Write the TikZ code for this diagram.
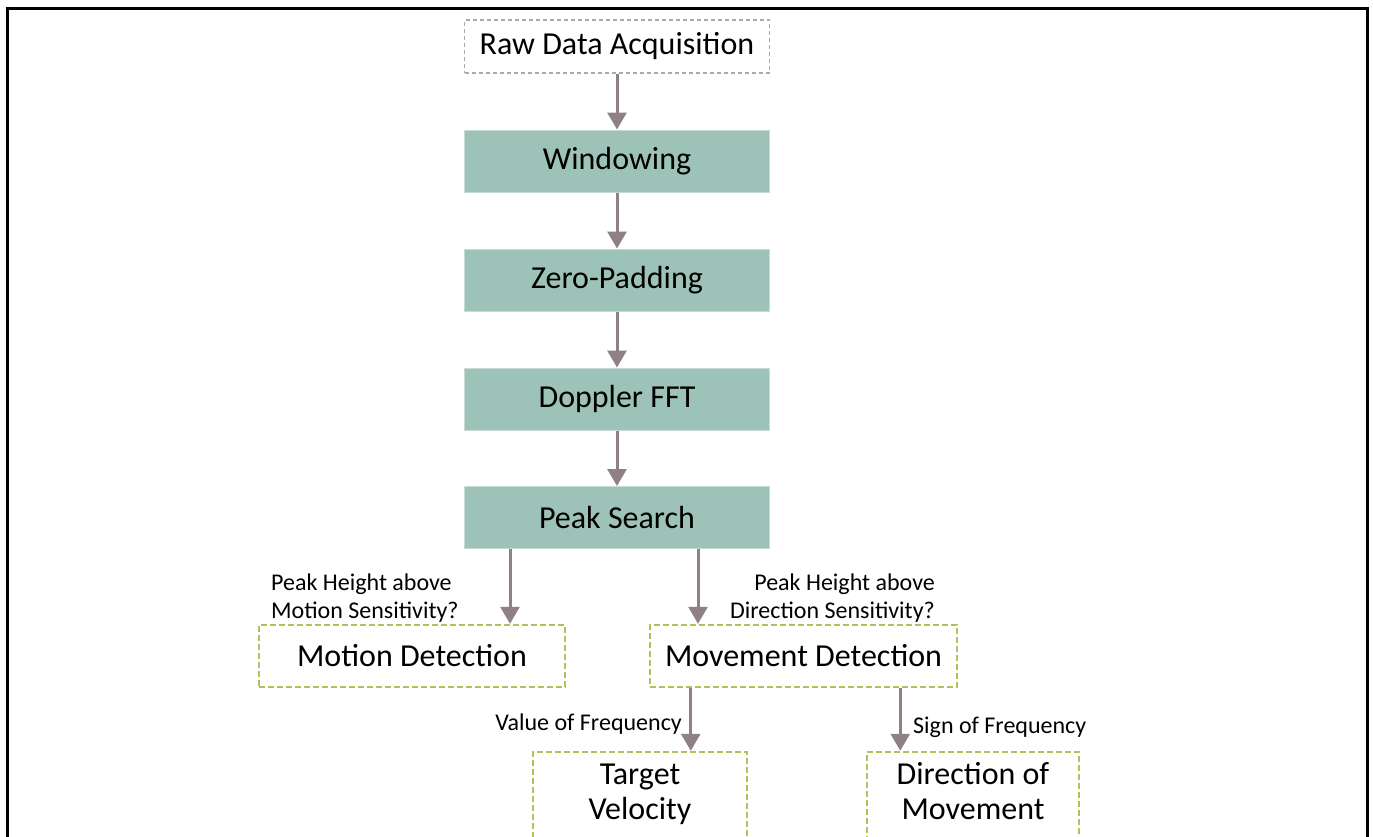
\documentclass[tikz,border=0pt]{standalone}
\usepackage{fontspec}
\setmainfont{Carlito}
\usetikzlibrary{arrows.meta}
\definecolor{stagefill}{RGB}{157,195,184}
\definecolor{stageedge}{RGB}{200,218,212}
\definecolor{flowgray}{RGB}{143,128,133}
\definecolor{resultgreen}{RGB}{169,196,91}
\definecolor{rawgray}{RGB}{170,170,170}
\tikzset{
  stage/.style={draw=stageedge, line width=1pt, fill=stagefill,
    minimum width=305pt, minimum height=62pt, inner sep=0pt,
    font=\fontsize{32}{38}\selectfont},
  rawbox/.style={stage, fill=none, draw=rawgray, line width=1.2pt,
    dash pattern=on 4pt off 3pt, minimum height=53pt},
  result/.style={draw=resultgreen, line width=2.5pt, dash pattern=on 6pt off 3pt,
    minimum height=62pt, inner sep=0pt, align=center,
    font=\fontsize{32}{35}\selectfont},
  cond/.style={inner sep=0pt, font=\fontsize{24}{28}\selectfont},
  flow/.style={draw=flowgray, line width=3pt, -{Triangle[length=17pt,width=19pt]}}
}
\begin{document}
\begin{tikzpicture}[x=1pt,y=-1pt]
  \useasboundingbox (0,0) rectangle (1373,836);
  \clip (0,0) rectangle (1373,836);
  % frame
  \draw[line width=3pt] (7,845) -- (7,8) -- (1367,8) -- (1367,845);
  \draw
    (617,46.5) node[rawbox] (raw){Raw Data Acquisition}
    (617,161) node[stage] (win){Windowing}
    (617,280) node[stage] (pad){Zero-Padding}
    (617,399) node[stage] (fft){Doppler FFT}
    (617,517.5) node[stage] (peak){Peak Search}
    (412,656) node[result, minimum width=306pt] (mot){Motion Detection}
    (803.5,656) node[result, minimum width=307pt] (move){Movement Detection}
    (640,795) node[result, minimum width=214pt, minimum height=86pt] (vel){\strut Target\\\strut Velocity}
    (973,795) node[result, minimum width=212pt, minimum height=86pt] (dir){\strut Direction of\\\strut Movement};
  \node[cond, align=left, anchor=west] (motq) at (271,598) {Peak Height above\\Motion Sensitivity?};
  \node[cond, align=right, anchor=east] (dirq) at (935,598) {Peak Height above\\Direction Sensitivity?};
  \node[cond, anchor=base east] (valq) at (682,730) {Value of Frequency};
  \node[cond, anchor=base west] (sgnq) at (913,733) {Sign of Frequency};
  \begin{scope}[flow]
    \draw (raw) to (win);
    \draw (win) to (pad);
    \draw (pad) to (fft);
    \draw (fft) to (peak);
    \draw ([xshift=46pt]peak.south west) to ([xshift=46pt]peak.south west |- mot.north);
    \draw ([xshift=234pt]peak.south west) to ([xshift=234pt]peak.south west |- move.north);
    \draw ([xshift=42pt]move.south west) to ([xshift=42pt]move.south west |- vel.north);
    \draw ([xshift=-58pt]move.south east) to ([xshift=-58pt]move.south east |- dir.north);
  \end{scope}
\end{tikzpicture}
\end{document}
